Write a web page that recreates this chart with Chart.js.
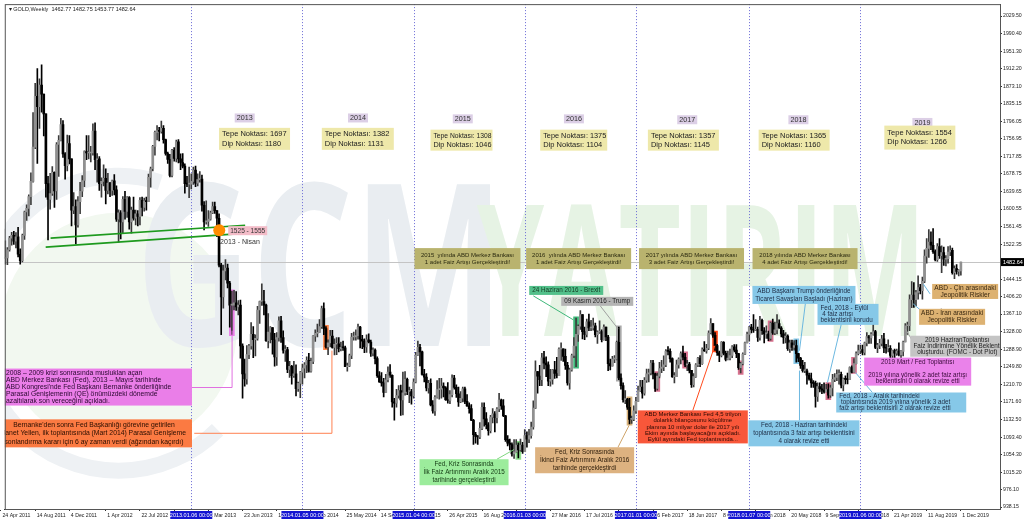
<!DOCTYPE html>
<html>
<head>
<meta charset="utf-8">
<script src="https://cdn.jsdelivr.net/npm/chart.js@4.4.1/dist/chart.umd.min.js"></script>
<style>
  html, body { margin: 0; padding: 0; background: #fff; }
  #wrap { width: 1024px; height: 519px; position: relative; }
</style>
</head>
<body>
<div id="wrap"><canvas id="chart" width="1024" height="519"></canvas></div>
<script>
// GOLD weekly, first bar = week of 24 Apr 2011, one value per week
const firstOpen = 1504;
const closes = [
  1556,1491,1492,1510,1536,1542,1529,1539,1500,1486,1542,1594,1602,1628,1662,1738,1851,1828,1876,1856,1812,1657,1622,1635,1682,1641,1744,1753,1788,1723,1697,1746,1712,1598,1606,1565,
  1617,1640,1664,1728,1725,1725,1725,1774,1710,1712,1657,1662,1669,1642,1658,1642,1663,1643,1578,1592,1572,1622,1595,1626,1572,1598,1580,1590,1584,1620,1604,1619,1617,1671,1690,1740,1771,1775,1773,1780,1755,1724,1711,1675,1731,1713,1750,1712,1704,1696,1657,1656,1656,
  1662,1687,1658,1666,1667,1609,1572,1573,1578,1592,1606,1597,1580,1476,1405,1463,1469,1436,1387,1387,1392,1383,1387,1296,1234,1223,1277,1296,1322,1310,1313,1376,1395,1395,1387,1308,1327,1337,1310,1272,1315,1352,1315,1287,1288,1244,1251,1230,1234,1201,1213,1238,
  1247,1254,1264,1240,1262,1318,1324,1326,1339,1379,1335,1294,1303,1318,1293,1300,1301,1290,1293,1292,1250,1252,1275,1316,1316,1319,1338,1311,1307,1294,1310,1305,1280,1287,1268,1230,1216,1214,1193,1221,1238,1231,1172,1169,1186,1197,1176,1192,1222,1195,1195,1185,
  1216,1276,1293,1283,1233,1227,1203,1213,1165,1152,1182,1199,1200,1207,1203,1177,1175,1188,1225,1204,1190,1172,1180,1201,1173,1163,1157,1131,1099,1095,1094,1113,1160,1134,1121,1108,1138,1145,1137,1156,1176,1163,1141,1088,1080,1077,1056,1061,1076,1065,1076,1061,
  1097,1089,1097,1116,1158,1239,1229,1221,1270,1258,1254,1218,1222,1243,1235,1230,1289,1290,1273,1253,1214,1243,1275,1296,1322,1340,1366,1328,1322,1350,1336,1336,1341,1321,1327,1328,1310,1338,1316,1257,1252,1267,1267,1304,1225,1208,1177,1178,1160,1133,1133,1152,
  1173,1197,1205,1191,1220,1234,1236,1258,1234,1202,1229,1246,1249,1254,1285,1284,1268,1228,1228,1254,1267,1279,1271,1254,1256,1242,1210,1228,1254,1269,1257,1288,1285,1291,1325,1346,1320,1297,1281,1275,1304,1280,1266,1269,1275,1294,1287,1279,1248,1257,1278,1303,1322,
  1338,1333,1331,1333,1315,1353,1330,1323,1323,1313,1347,1325,1332,1346,1336,1323,1315,1318,1290,1303,1293,1297,1279,1269,1253,1241,1241,1231,1223,1214,1213,1184,1206,1201,1198,1194,1199,1187,1203,1222,1226,1233,1233,1209,1223,1222,1221,1248,1238,1257,1279,
  1286,1288,1282,1303,1317,1314,1322,1328,1293,1298,1302,1312,1292,1291,1291,1275,1286,1280,1285,1277,1284,1305,1341,1341,1399,1409,1399,1415,1426,1419,1440,1496,1513,1527,1520,1506,1488,1517,1497,1504,1489,1490,1505,1509,1459,1468,1462,1462.77,1482.64
];
const highs = [
  1565,1577,1530,1515,1540,1549,1551,1548,1560,1512,1545,1596,1610,1632,1681,1815,1880,1913,1890,1921,1842,1808,1673,1680,1695,1683,1748,1764,1802,1797,1726,1765,1764,1711,1637,1621,
  1628,1660,1675,1730,1764,1764,1740,1790,1792,1724,1717,1670,1699,1690,1680,1660,1665,1677,1652,1599,1597,1628,1640,1628,1628,1605,1627,1598,1597,1626,1627,1625,1627,1678,1694,1742,1774,1786,1782,1796,1786,1756,1727,1722,1733,1737,1754,1755,1723,1724,1701,1673,1694,
  1679,1694,1696,1679,1684,1676,1617,1619,1597,1596,1616,1616,1587,1590,1480,1476,1488,1478,1440,1418,1420,1417,1397,1398,1301,1267,1297,1300,1348,1339,1321,1384,1396,1434,1420,1389,1368,1339,1337,1324,1326,1361,1362,1330,1297,1293,1262,1253,1262,1254,1216,1240,
  1256,1259,1272,1280,1269,1319,1332,1345,1355,1385,1392,1339,1310,1331,1331,1312,1315,1315,1305,1307,1296,1258,1278,1324,1327,1332,1345,1340,1320,1312,1321,1323,1309,1292,1290,1272,1239,1237,1224,1233,1250,1255,1232,1180,1200,1208,1209,1238,1239,1225,1205,1200,
  1223,1282,1307,1300,1285,1244,1235,1220,1223,1175,1186,1219,1224,1224,1214,1206,1215,1197,1232,1231,1210,1205,1195,1205,1205,1188,1170,1166,1133,1104,1097,1126,1170,1170,1148,1126,1142,1157,1150,1159,1191,1178,1177,1142,1097,1089,1081,1088,1088,1081,1089,1082,
  1110,1105,1111,1127,1174,1263,1240,1253,1280,1284,1272,1261,1244,1244,1262,1271,1292,1303,1284,1289,1260,1247,1278,1315,1358,1343,1375,1360,1338,1356,1367,1353,1358,1347,1330,1352,1332,1343,1338,1320,1267,1273,1275,1307,1338,1234,1214,1197,1180,1180,1140,1163,
  1182,1207,1220,1220,1226,1245,1245,1264,1264,1236,1236,1260,1264,1274,1288,1295,1290,1270,1237,1265,1270,1283,1296,1280,1264,1260,1241,1235,1257,1271,1275,1292,1306,1300,1330,1357,1339,1326,1300,1285,1306,1306,1285,1285,1289,1297,1299,1299,1280,1260,1281,1305,1327,
  1340,1344,1366,1355,1338,1362,1356,1337,1341,1329,1349,1356,1349,1366,1354,1339,1331,1326,1321,1309,1309,1308,1309,1280,1271,1264,1260,1245,1236,1236,1219,1218,1214,1214,1211,1214,1211,1212,1209,1233,1235,1243,1243,1238,1225,1230,1236,1250,1252,1268,1283,
  1298,1298,1298,1305,1326,1320,1326,1346,1331,1302,1311,1320,1324,1300,1310,1297,1287,1289,1289,1303,1286,1307,1346,1349,1410,1439,1437,1420,1452,1433,1449,1510,1535,1555,1550,1557,1510,1524,1535,1519,1516,1497,1517,1519,1514,1474,1477,1466,1482.75
];
const lows = [
  1500,1462,1478,1477,1507,1520,1522,1514,1494,1478,1483,1533,1575,1585,1610,1660,1735,1702,1780,1816,1763,1627,1532,1600,1631,1604,1622,1673,1752,1715,1667,1685,1701,1563,1590,1523,
  1560,1590,1628,1650,1710,1712,1705,1720,1688,1660,1642,1627,1652,1612,1634,1628,1631,1632,1573,1527,1534,1547,1578,1582,1556,1547,1576,1565,1563,1565,1585,1596,1598,1617,1649,1685,1720,1754,1752,1769,1747,1720,1702,1672,1672,1707,1705,1703,1688,1692,1636,1650,1626,
  1645,1655,1650,1652,1660,1596,1554,1567,1562,1576,1590,1591,1539,1472,1321,1380,1443,1425,1338,1322,1376,1375,1365,1269,1180,1207,1211,1268,1289,1270,1274,1309,1346,1386,1365,1306,1292,1303,1278,1251,1253,1307,1304,1280,1262,1237,1226,1211,1226,1185,1195,1181,
  1211,1225,1237,1238,1238,1257,1306,1316,1329,1335,1321,1291,1277,1294,1291,1276,1277,1283,1285,1286,1250,1240,1250,1268,1309,1309,1311,1292,1290,1281,1282,1303,1273,1274,1256,1226,1215,1207,1183,1207,1216,1226,1160,1131,1160,1180,1142,1143,1187,1188,1170,1167,
  1180,1214,1275,1252,1231,1216,1196,1191,1163,1147,1142,1180,1178,1180,1183,1175,1169,1168,1183,1200,1182,1162,1170,1172,1168,1162,1147,1130,1077,1080,1077,1090,1110,1118,1112,1098,1103,1125,1105,1125,1150,1155,1139,1084,1074,1065,1051,1046,1060,1047,1062,1057,
  1061,1071,1081,1091,1111,1157,1191,1208,1208,1245,1228,1208,1207,1211,1224,1225,1230,1264,1262,1244,1209,1200,1240,1270,1250,1306,1333,1312,1310,1316,1330,1330,1331,1316,1302,1324,1305,1309,1308,1241,1243,1251,1259,1265,1221,1200,1171,1168,1155,1123,1124,1130,
  1146,1180,1195,1180,1187,1215,1216,1232,1223,1195,1198,1225,1237,1241,1250,1276,1260,1226,1214,1228,1247,1256,1265,1250,1241,1236,1204,1205,1226,1250,1250,1255,1284,1280,1288,1323,1315,1286,1275,1261,1272,1276,1263,1265,1265,1270,1283,1270,1244,1236,1254,1277,1303,
  1307,1325,1326,1330,1306,1309,1322,1303,1313,1308,1309,1322,1321,1323,1335,1316,1302,1303,1286,1282,1286,1287,1260,1261,1246,1238,1237,1211,1220,1204,1204,1160,1173,1194,1190,1191,1196,1180,1182,1185,1217,1219,1211,1203,1196,1212,1212,1226,1236,1238,1256,
  1276,1279,1276,1276,1296,1302,1302,1320,1290,1281,1290,1296,1281,1280,1283,1270,1266,1267,1275,1274,1266,1274,1305,1322,1330,1381,1382,1385,1400,1412,1400,1437,1480,1493,1510,1502,1485,1484,1491,1459,1475,1474,1480,1497,1456,1446,1456,1452,1453.77
];

// axis labels
const xTickWeeks = [0,16,32,49,65,81,97,113,129,145,161,177,193,209,225,241,257,273,289,305,321,337,353,369,385,401,417,433,449];
const xTickLabels = ["24 Apr 2011","14 Aug 2011","4 Dec 2011","1 Apr 2012","22 Jul 2012","11 Nov 2012","3 Mar 2013","23 Jun 2013","13 Oct 2013","2 Feb 2014","25 May 2014","14 Sep 2014","4 Jan 2015","26 Apr 2015","16 Aug 2015","6 Dec 2015","27 Mar 2016","17 Jul 2016","6 Nov 2016","26 Feb 2017","18 Jun 2017","8 Oct 2017","28 Jan 2018","20 May 2018","9 Sep 2018","30 Dec 2018","21 Apr 2019","11 Aug 2019","1 Dec 2019"];
const yTickValues = [2029.50,1990.40,1951.30,1912.20,1873.10,1835.15,1796.05,1756.95,1717.85,1678.75,1639.65,1600.55,1561.45,1522.35,1444.15,1406.20,1367.10,1328.00,1288.90,1249.80,1210.70,1171.60,1132.50,1093.40,1054.30,1015.20,976.10,938.15];
const yearLineWeeks = [89,141,193,245,297,350,402];
const yearLineLabels = ["2013.01.06 00:00","2014.01.05 00:00","2015.01.04 00:00","2016.01.03 00:00","2017.01.01 00:00","2018.01.07 00:00","2019.01.06 00:00"];
const lastPrice = 1482.64;
const header = "\u25BE GOLD,Weekly  1462.77 1482.75 1453.77 1482.64";

// highlighted candles (week index) and their marker colours
const markWeeks = [108,152,242,269,289,294,307,320,334,346,360,372,387,399];
const markColors = ["#ea7ee8","#ff8447","#8fe08f","#3fb87a","#a9a9a9","#d9b27a","#d8728f","#d8728f","#ff4a1c","#d8728f","#d8728f","#86c8e8","#d8728f","#d8728f"];

const noteFont = '"Liberation Sans", Arial, sans-serif';
const axisFont = '"Liberation Sans", Arial, sans-serif';

// text boxes, anchored at (week centre, price of top edge)
const notes = [
  {x:114, y:1813, w:20, h:9, size:7.5, bg:"#dccfe6", fg:"#333", lines:["2013"]},
  {x:167, y:1813, w:20, h:9, size:7.5, bg:"#dccfe6", fg:"#333", lines:["2014"]},
  {x:216, y:1811, w:20, h:9, size:7.5, bg:"#dccfe6", fg:"#333", lines:["2015"]},
  {x:268, y:1811, w:20, h:9, size:7.5, bg:"#dccfe6", fg:"#333", lines:["2016"]},
  {x:321, y:1809, w:20, h:9, size:7.5, bg:"#dccfe6", fg:"#333", lines:["2017"]},
  {x:373, y:1809, w:20, h:9, size:7.5, bg:"#dccfe6", fg:"#333", lines:["2018"]},
  {x:431, y:1803, w:20, h:9, size:7.5, bg:"#dccfe6", fg:"#333", lines:["2019"]},

  {x:118.6, y:1781, w:71, h:22, size:7.5, bg:"#eee8aa", fg:"#222", align:"left", lines:["Tepe Noktası: 1697","Dip Noktası: 1180"]},
  {x:166.9, y:1781, w:72, h:22, size:7.5, bg:"#eee8aa", fg:"#222", align:"left", lines:["Tepe Noktası: 1382","Dip Noktası: 1131"]},
  {x:215.4, y:1777, w:62, h:21, size:7.5, bg:"#eee8aa", fg:"#222", align:"left", lines:["Tepe Noktası: 1308","Dip Noktası: 1046"]},
  {x:267.9, y:1777, w:67, h:21, size:7.5, bg:"#eee8aa", fg:"#222", align:"left", lines:["Tepe Noktası: 1375","Dip Noktası: 1104"]},
  {x:319.2, y:1777, w:71, h:21, size:7.5, bg:"#eee8aa", fg:"#222", align:"left", lines:["Tepe Noktası: 1357","Dip Noktası: 1145"]},
  {x:371.0, y:1777, w:71, h:21, size:7.5, bg:"#eee8aa", fg:"#222", align:"left", lines:["Tepe Noktası: 1365","Dip Noktası: 1160"]},
  {x:429.8, y:1786, w:71, h:24, size:7.5, bg:"#eee8aa", fg:"#222", align:"left", lines:["Tepe Noktası: 1554","Dip Noktası: 1266"]},

  {x:218.2, y:1513.7, w:106, h:21, size:6, bg:"#b9b36e", fg:"#2b2a10", lines:["2015  yılında ABD Merkez Bankası","1 adet Faiz Artışı Gerçekleştirdi!"]},
  {x:270.2, y:1513.7, w:105, h:21, size:6, bg:"#b9b36e", fg:"#2b2a10", lines:["2016  yılında ABD Merkez Bankası","1 adet Faiz Artışı Gerçekleştirdi!"]},
  {x:323.0, y:1513.7, w:105, h:21, size:6, bg:"#b9b36e", fg:"#2b2a10", lines:["2017 yılında ABD Merkez Bankası","3 adet Faiz Artışı Gerçekleştirdi!"]},
  {x:376.1, y:1513.7, w:105, h:21, size:6, bg:"#b9b36e", fg:"#2b2a10", lines:["2018 yılında ABD Merkez Bankası","4 adet Faiz Artışı Gerçekleştirdi!"]},

  {x:264.4, y:1429.6, w:74, h:9, size:6.3, bg:"#52c08a", fg:"#143a22", lines:["24 Haziran 2016 - Brexit"]},
  {x:278.9, y:1405.3, w:72, h:9, size:6.3, bg:"#b4b4b4", fg:"#222", lines:["09 Kasım 2016 - Trump"]},
  {x:375.6, y:1429.6, w:103, h:18, size:6.3, bg:"#86c8e8", fg:"#1d2c44", lines:["ABD Başkanı Trump önderliğinde","Ticaret Savaşları Başladı (Haziran)"]},
  {x:396.2, y:1389.7, w:61, h:21, size:6.3, bg:"#86c8e8", fg:"#1d2c44", align:"left", lines:["Fed, 2018 - Eylül"," 4 faiz artışı","beklentisini korudu"]},
  {x:451.0, y:1434.0, w:66, h:15, size:6.6, bg:"#ddb272", fg:"#3a2810", lines:["ABD - Çin arasındaki","Jeopolitik Riskler"]},
  {x:444.9, y:1378.7, w:66, h:16, size:6.6, bg:"#ddb272", fg:"#3a2810", lines:["ABD - İran arasındaki","Jeopolitik Riskler"]},
  {x:447.3, y:1318.9, w:94, h:21, size:6.3, bg:"#c4c4c4", fg:"#222", nofit:true, lines:["2019 HaziranToplantısı","Faiz İndirimine Yönelik Beklenti","oluşturdu. (FOMC - Dot Plot)"]},
  {x:428.8, y:1270.2, w:107, h:28, size:6.3, bg:"#ea82ea", fg:"#3a0a3a", lines:["2019 Mart / Fed Toplantısı","","2019 yılına yönelik 2 adet faiz artışı","beklentisini 0 olarak revize etti"]},
  {x:421.1, y:1192.7, w:130, h:20, size:6.3, bg:"#86c8e8", fg:"#1d2c44", align:"left", lines:["Fed, 2018 - Aralık tarihindeki"," toplantısında 2019 yılına yönelik 3 adet","faiz artışı beklentisini 2 olarak revize etti"]},
  {x:375.6, y:1130.8, w:111, h:26, size:6.3, bg:"#86c8e8", fg:"#1d2c44", lines:["Fed, 2018 - Haziran tarihindeki","toplantısında 3 faiz artışı beklentisini","4 olarak revize etti"]},
  {x:323.6, y:1152.9, w:110, h:33, size:6, bg:"#f8573a", fg:"#2a0a04", lines:["ABD Merkez Bankası Fed 4,5 trilyon","dolarlık bilançosunu küçültme","planına 10 milyar dolar ile 2017 yılı","Ekim ayında başlayacağını açıkladı.","Eylül ayındaki Fed toplantısında..."]},
  {x:273.0, y:1071.0, w:99, h:26, size:6.3, bg:"#ddb280", fg:"#2a1a08", lines:["Fed, Kriz Sonrasında","İkinci Faiz Artırımını Aralık 2016","tarihinde gerçekleştirdi"]},
  {x:216.6, y:1044.4, w:89, h:26, size:6.3, bg:"#9cec9c", fg:"#143a14", lines:["Fed, Kriz Sonrasında","İlk Faiz Artırımını Aralık 2015","tarihinde gerçekleştirdi"]},
  {x:44.9, y:1245.9, w:190, h:37, size:6.8, bg:"#ea7ee8", fg:"#2a0830", align:"left", pad:4, lines:["2008 – 2009 krizi sonrasında musluklan açan","ABD Merkez Bankası (Fed), 2013 – Mayıs tarihinde","ABD Kongresi'nde Fed Başkanı Bernanke önderliğinde","Parasal Genişlemenin (QE) önümüzdeki dönemde","azaltılarak son vereceğini açıkladı."]},
  {x:44.9, y:1133.0, w:190, h:28, size:6.8, bg:"#fb7a42", fg:"#2a0e00", nofit:true, dx:-3, lines:["Bernanke'den sonra Fed Başkanlığı görevine getirilen","Janet Yellen, ilk toplantısında (Mart 2014) Parasal Genişleme","sonlandırma kararı için 6 ay zaman verdi (ağzından kaçırdı)"]},

  {x:115.4, y:1562.4, w:39, h:9, size:7.5, bg:"#f3bcc8", fg:"#333", lines:["1525 - 1555"]}
];

// connector lines, points in (week, price)
const links = [
  {c:"#3fb87a", pts:[[249,1407.5],[267.7,1354.3]]},
  {c:"#a0a0a0", pts:[[280.3,1385.3],[288.6,1334.4]]},
  {c:"#6cb8e0", pts:[[376.3,1392],[373.5,1285.7]]},
  {c:"#6cb8e0", pts:[[373.5,1130.8],[373.5,1241.4]]},
  {c:"#6cb8e0", pts:[[393.1,1345.5],[386.6,1214.9]]},
  {c:"#6cb8e0", pts:[[407.6,1192.7],[399.7,1237]]},
  {c:"#a0a0a0", pts:[[426.3,1307.8],[423,1334.4]]},
  {c:"#6cb8e0", pts:[[430.5,1374.3],[426.7,1389.7]]},
  {c:"#6cb8e0", pts:[[434.6,1411.9],[431.4,1434]]},
  {c:"#ff4a1c", pts:[[323.6,1152.9],[333.9,1296.8]]},
  {c:"#cfa46a", pts:[[288.6,1071],[293.8,1119.6]]},
  {c:"#7fd67f", pts:[[232,1044.4],[240,1066]]},
  {c:"#e070e0", pts:[[89,1203.8],[108.1,1203.8],[108.1,1330]]},
  {c:"#ff8050", pts:[[90.4,1102],[154.8,1102],[154.8,1285.7]]}
];
const trendLines = [
  [[23.2,1535.8],[114.2,1564.6]],
  [[20.9,1515.9],[115.1,1546.9]]
];

const xMin = 1.77, xMax = 467.3, yMin = 933.71, yMax = 2056.06;

const opens = closes.map((c, i) => i === 0 ? firstOpen : closes[i - 1]);
const up = closes.map((c, i) => c >= opens[i]);
const wickData = closes.map((c, i) => ({x: i, y: [Math.min(lows[i], opens[i], c), Math.max(highs[i], opens[i], c)]}));
const bodyData = closes.map((c, i) => ({x: i, y: [opens[i], c]}));
const markData = markWeeks.map(w => ({x: w, y: [Math.min(lows[w], opens[w]) - 3, Math.max(highs[w], opens[w]) + 3]}));

function px(chart, w) { return chart.scales.x.getPixelForValue(w); }
function py(chart, p) { return chart.scales.y.getPixelForValue(p); }

function stretchedText(ctx, text, x, base, size, sy, color) {
  ctx.save();
  ctx.translate(x, base);
  ctx.scale(1, sy);
  ctx.font = 'bold ' + size + 'px "Open Sans", sans-serif';
  ctx.fillStyle = color; ctx.textAlign = "left"; ctx.textBaseline = "alphabetic";
  ctx.fillText(text, 0, 0);
  ctx.restore();
}

const decor = {
  id: "decor",
  beforeDatasetsDraw(chart) {
    const ctx = chart.ctx, a = chart.chartArea;
    ctx.save();
    ctx.beginPath(); ctx.rect(a.left, a.top, a.right - a.left, a.bottom - a.top); ctx.clip();
    // watermark logo + name
    const gx = px(chart, 55), gy = py(chart, 1330);
    ctx.fillStyle = "#f2f8f0";
    ctx.beginPath(); ctx.arc(gx, gy, 118, 0, Math.PI * 2); ctx.fill();
    ctx.strokeStyle = "#eef1f4"; ctx.lineWidth = 16;
    ctx.beginPath(); ctx.arc(gx, gy, 140, 0.25 * Math.PI, 0.85 * Math.PI); ctx.stroke();
    ctx.beginPath(); ctx.arc(gx, gy - 20, 135, 1.15 * Math.PI, 1.6 * Math.PI); ctx.stroke();
    stretchedText(ctx, "GCM", px(chart, 63), py(chart, 1297), 160, 1.42, "#e9edf1");
    stretchedText(ctx, "YATIRIM", px(chart, 222.5), py(chart, 1319), 108, 1.7, "#e6f3e4");
    // year separators
    ctx.strokeStyle = "#6a6ad6"; ctx.lineWidth = 1; ctx.setLineDash([1, 2]);
    yearLineWeeks.forEach(w => {
      const x = Math.round(px(chart, w)) + 0.5;
      ctx.beginPath(); ctx.moveTo(x, a.top); ctx.lineTo(x, a.bottom); ctx.stroke();
    });
    ctx.setLineDash([]);
    // last price line
    const yl = Math.round(py(chart, lastPrice)) + 0.5;
    ctx.strokeStyle = "#c4c4c4";
    ctx.beginPath(); ctx.moveTo(a.left, yl); ctx.lineTo(a.right, yl); ctx.stroke();
    ctx.restore();
  },
  afterDatasetsDraw(chart) {
    const ctx = chart.ctx, a = chart.chartArea;
    ctx.save();
    ctx.beginPath(); ctx.rect(a.left, a.top, a.right - a.left, a.bottom - a.top); ctx.clip();
    // trend lines
    ctx.strokeStyle = "#1e9a1e"; ctx.lineWidth = 1.6;
    trendLines.forEach(l => {
      ctx.beginPath(); ctx.moveTo(px(chart, l[0][0]), py(chart, l[0][1]));
      ctx.lineTo(px(chart, l[1][0]), py(chart, l[1][1])); ctx.stroke();
    });
    ctx.fillStyle = "#ff8c00";
    ctx.beginPath(); ctx.arc(px(chart, 102.1), py(chart, 1553.6), 6, 0, Math.PI * 2); ctx.fill();
    ctx.font = "7px " + noteFont; ctx.fillStyle = "#333"; ctx.textAlign = "left"; ctx.textBaseline = "middle";
    ctx.fillText("2013 - Nisan", px(chart, 102.5), py(chart, 1527));
    // connectors
    ctx.lineWidth = 1;
    links.forEach(l => {
      ctx.strokeStyle = l.c; ctx.beginPath();
      l.pts.forEach((p, i) => { const x = px(chart, p[0]), y = py(chart, p[1]); i ? ctx.lineTo(x, y) : ctx.moveTo(x, y); });
      ctx.stroke();
    });
    // boxes
    notes.forEach(n => {
      const cx = px(chart, n.x), top = py(chart, n.y), left = cx - n.w / 2;
      ctx.fillStyle = n.bg; ctx.fillRect(left, top, n.w, n.h);
      ctx.font = n.size + "px " + noteFont; ctx.fillStyle = n.fg; ctx.textBaseline = "middle";
      const lh = Math.min(n.size * 1.25, (n.h - 2) / n.lines.length);
      const y0 = top + (n.h - lh * n.lines.length) / 2 + lh / 2;
      n.lines.forEach((t, i) => {
        let tx;
        if (n.align === "left") { ctx.textAlign = "left"; tx = left + (n.pad || 3); }
        else { ctx.textAlign = "center"; tx = cx + (n.dx || 0); }
        if (n.nofit) ctx.fillText(t, tx, y0 + i * lh);
        else ctx.fillText(t, tx, y0 + i * lh, n.w - 4);
      });
    });
    ctx.restore();
  },
  afterDraw(chart) {
    const ctx = chart.ctx, a = chart.chartArea;
    ctx.save();
    ctx.strokeStyle = "#555"; ctx.lineWidth = 1;
    ctx.strokeRect(a.left + 0.5, a.top + 0.5, a.right - a.left, a.bottom - a.top);
    // year labels on time axis
    ctx.font = "5.5px " + axisFont; ctx.textAlign = "center"; ctx.textBaseline = "middle";
    yearLineWeeks.forEach((w, i) => {
      const x = px(chart, w);
      ctx.fillStyle = "#1414d2"; ctx.fillRect(x - 21, a.bottom + 2, 42, 8);
      ctx.fillStyle = "#fff"; ctx.fillText(yearLineLabels[i], x, a.bottom + 6.2);
    });
    // last price tag
    const yl = py(chart, lastPrice);
    ctx.fillStyle = "#000"; ctx.fillRect(a.right + 1, yl - 4, 23, 8);
    ctx.fillStyle = "#fff"; ctx.textAlign = "left"; ctx.font = "5.5px " + axisFont;
    ctx.fillText(lastPrice.toFixed(2), a.right + 3, yl + 0.3);
    // header
    ctx.fillStyle = "#222"; ctx.font = "5.5px " + axisFont;
    ctx.fillText(header, a.left + 4, a.top + 5);
    ctx.restore();
  }
};

new Chart(document.getElementById("chart"), {
  type: "bar",
  data: {
    datasets: [
      {data: bodyData, backgroundColor: up.map(u => u ? "#909090" : "#000"), barThickness: 2, minBarLength: 1, grouped: false, borderWidth: 0},
      {data: wickData, backgroundColor: up.map(u => u ? "#3a3a3a" : "#000"), barThickness: 1, grouped: false, borderWidth: 0},
      {data: markData, backgroundColor: markColors, barThickness: 5, grouped: false, borderWidth: 0}
    ]
  },
  options: {
    responsive: false, animation: false, devicePixelRatio: 1,
    layout: {padding: {left: 2, top: 2, right: 0, bottom: 0}},
    plugins: {legend: {display: false}, tooltip: {enabled: false}},
    scales: {
      x: {
        type: "linear", min: xMin, max: xMax, offset: false,
        afterBuildTicks: s => { s.ticks = xTickWeeks.map(v => ({value: v})); },
        afterFit: s => { s.height = 10; },
        ticks: {autoSkip: false, maxRotation: 0, align: "start", padding: 1, color: "#222",
                font: {size: 5.2, family: axisFont}, callback: (v, i) => " " + xTickLabels[i]},
        grid: {drawOnChartArea: false, drawTicks: true, tickLength: 2, color: "#333", offset: false},
        border: {display: true, color: "#333"}
      },
      y: {
        position: "right", min: yMin, max: yMax,
        afterBuildTicks: s => { s.ticks = yTickValues.map(v => ({value: v})); },
        afterFit: s => { s.width = 24; },
        ticks: {autoSkip: false, padding: 1, color: "#222", font: {size: 5.2, family: axisFont},
                callback: v => Number(v).toFixed(2)},
        grid: {drawOnChartArea: false, drawTicks: true, tickLength: 2, color: "#333"},
        border: {display: true, color: "#333"}
      }
    }
  },
  plugins: [decor]
});
</script>
</body>
</html>
